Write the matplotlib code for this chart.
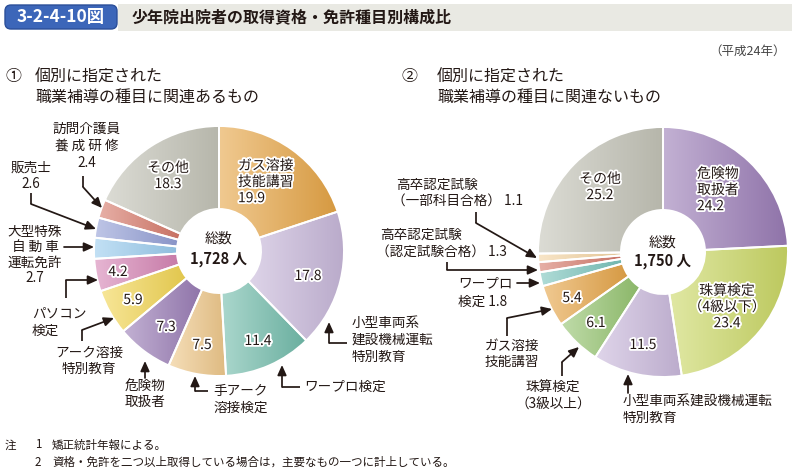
import matplotlib
matplotlib.use("Agg")
import numpy as np
import matplotlib.pyplot as plt
import matplotlib.patheffects as pe
from matplotlib.colors import to_rgb
from matplotlib.patches import FancyBboxPatch, Rectangle

plt.rcParams['font.family'] = ['Noto Sans CJK JP', 'DejaVu Sans']

# ======================================================
# DATA
# ======================================================

left_labels = [
    "ガス溶接技能講習", "小型車両系建設機械運転特別教育", "ワープロ検定",
    "手アーク溶接検定", "危険物取扱者", "アーク溶接特別教育", "パソコン検定",
    "大型特殊自動車運転免許", "販売士", "訪問介護員養成研修", "その他",
]
left_values = [19.9, 17.8, 11.4, 7.5, 7.3, 5.9, 4.2, 2.7, 2.6, 2.4, 18.3]
left_colors = [
    "#e6a546", "#c8b8da", "#72bcab", "#efc88a", "#9a7db6", "#f2d552",
    "#d685b5", "#9accee", "#939fd6", "#d6796a", "#c4c4b8",
]
left_total = "1,728 人"

right_labels = [
    "危険物取扱者", "珠算検定（4級以下）", "小型車両系建設機械運転特別教育",
    "珠算検定（3級以上）", "ガス溶接技能講習", "ワープロ検定",
    "高卒認定試験（認定試験合格）", "高卒認定試験（一部科目合格）", "その他",
]
right_values = [24.2, 23.4, 11.5, 6.1, 5.4, 1.8, 1.3, 1.1, 25.2]
right_colors = [
    "#9a7cb6", "#cbd866", "#cab9dc", "#95c470", "#e6a548", "#7ac4bc",
    "#d67b6c", "#f4d4a2", "#c4c4b8",
]
right_total = "1,750 人"

TXT = "#231815"
H = 468

# ======================================================
# FIGURE (pixel coordinates, y downward)
# ======================================================

fig = plt.figure(figsize=(7.92, 4.68), dpi=100)
ax = fig.add_axes([0, 0, 1, 1])

halo = [pe.withStroke(linewidth=2.6, foreground="white")]


def shade(c):
    # horizontal gradient: lighter on the left, a bit darker on the right
    c = np.array(to_rgb(c))
    light = c + (1 - c) * 0.4
    dark = c * 0.93
    f = np.linspace(0, 1, 64)[:, None]
    return (light * (1 - f) + dark * f)[None, :, :]


def donut(values, colors, cx, cy):
    wedges, _ = ax.pie(
        values,
        colors=colors,
        center=(cx, cy),
        radius=125,
        startangle=-90,
        counterclock=True,
        wedgeprops=dict(width=83, edgecolor="white", linewidth=1.4),
    )
    for w, c in zip(wedges, colors):
        bb = w.get_path().get_extents(w.get_patch_transform())
        im = ax.imshow(shade(c), extent=[bb.x0, bb.x1, bb.y1, bb.y0],
                       aspect="auto", interpolation="bilinear", zorder=1)
        im.set_clip_path(w)
        w.set_facecolor("none")
        w.set_zorder(2)


donut(left_values, left_colors, 219, 251)
donut(right_values, right_colors, 663, 252)

ax.set_xlim(0, 792)
ax.set_ylim(H, 0)
ax.set_aspect("equal")
ax.axis("off")


def t(x, y, s, size=9.8, ha="center", ls=1.25, **kw):
    ax.text(x, y, s, fontsize=size, ha=ha, va="center", color=TXT,
            linespacing=ls, zorder=5, **kw)


def inner(x, y, s, ha="center"):
    ax.text(x, y, s, fontsize=10, ha=ha, va="center", color=TXT,
            linespacing=1.2, path_effects=halo, zorder=5)


def connector(pts):
    xs = [p[0] for p in pts[:-1]]
    ys = [p[1] for p in pts[:-1]]
    ax.plot(xs, ys, color=TXT, lw=1.25, solid_capstyle="butt", zorder=4)
    ax.annotate(
        "", xy=pts[-1], xytext=pts[-2], zorder=4,
        arrowprops=dict(arrowstyle="-|>,head_length=0.6,head_width=0.27",
                        color=TXT, lw=1.25, shrinkA=0, shrinkB=0),
    )


# ======================================================
# HEADER
# ======================================================

ax.add_patch(Rectangle((118, 4), 674, 27, facecolor="#e9e9e3", edgecolor="none"))
ax.add_patch(FancyBboxPatch((5, 5), 112, 24, boxstyle="round,pad=0,rounding_size=6",
                            facecolor="#3c66b9", edgecolor="#2b4f99", lw=1))
ax.text(61, 17.5, "3-2-4-10図", fontsize=12.5, color="white", fontweight="bold",
        ha="center", va="center")
ax.text(132, 17.5, "少年院出院者の取得資格・免許種目別構成比", fontsize=11.5,
        color=TXT, fontweight="bold", ha="left", va="center")
ax.text(786, 51, "（平成24年）", fontsize=9, color="#444444", ha="right", va="center")

t(13, 77, "①", size=11.5)
t(35, 77, "個別に指定された", size=11.5, ha="left")
t(35, 97, "職業補導の種目に関連あるもの", size=11.5, ha="left")
t(410, 77, "②", size=11.5)
t(437, 77, "個別に指定された", size=11.5, ha="left")
t(437, 97, "職業補導の種目に関連ないもの", size=11.5, ha="left")

# ======================================================
# LEFT DONUT LABELS
# ======================================================

t(219, 239, "総数", size=10)
t(219, 259, left_total, size=10.5, fontweight="bold")

inner(238, 182, "ガス溶接\n技能講習\n" + f"{left_values[0]}", ha="left")
inner(308, 276, f"{left_values[1]}")
inner(258, 341, f"{left_values[2]}")
inner(202, 345, f"{left_values[3]}")
inner(166, 327, f"{left_values[4]}")
inner(133, 300, f"{left_values[5]}")
inner(118, 272, f"{left_values[6]}")
inner(168, 176, "その他\n" + f"{left_values[10]}")

t(87, 146, "訪問介護員\n養 成 研 修\n" + f"{left_values[9]}")
connector([(83, 176), (83, 187), (102, 208)])

t(31, 176, "販売士\n" + f"{left_values[8]}")
connector([(31, 193), (31, 204), (96, 229)])

t(35, 255, "大型特殊\n自 動 車\n運転免許\n" + f"{left_values[7]}", ls=1.15)
connector([(64, 247), (94, 247)])

t(32, 322, "パソコン\n検定", ha="left")
connector([(66, 298), (66, 280), (98, 280)])

t(89, 361, "アーク溶接\n特別教育")
connector([(82, 341), (82, 330), (114, 318)])

t(145, 394, "危険物\n取扱者")
connector([(145, 378), (145, 361)])

t(213, 399, "手アーク\n溶接検定", ha="left")
connector([(208, 391), (195, 391), (195, 376)])

t(304, 387, "ワープロ検定", ha="left")
connector([(300, 387), (282, 387), (282, 365)])

t(352, 340, "小型車両系\n建設機械運転\n特別教育", ha="left")
connector([(347, 343), (329, 343), (329, 322)])

# ======================================================
# RIGHT DONUT LABELS
# ======================================================

t(663, 243, "総数", size=10)
t(663, 261, right_total, size=10.5, fontweight="bold")

inner(600, 187, "その他\n" + f"{right_values[8]}")
inner(697, 190, "危険物\n取扱者\n" + f"{right_values[0]}", ha="left")
inner(727, 307, "珠算検定\n（4級以下）\n" + f"{right_values[1]}")
inner(643, 345, f"{right_values[2]}")
inner(596, 323, f"{right_values[3]}")
inner(572, 298, f"{right_values[4]}")

t(396, 185, "高卒認定試験", ha="left")
t(392, 201, "（一部科目合格） " + f"{right_values[7]}", ha="left")
connector([(476, 212), (476, 223), (537, 258)])

t(380, 235, "高卒認定試験", ha="left")
t(376, 252, "（認定試験合格） " + f"{right_values[6]}", ha="left")
connector([(447, 262), (447, 270), (538, 270)])

t(458, 283, "ワープロ", ha="left")
t(458, 302, "検定 " + f"{right_values[5]}", ha="left")
connector([(517, 283), (540, 283)])

t(512, 354, "ガス溶接\n技能講習")
connector([(507, 336), (507, 318), (552, 309)])

t(553, 396, "珠算検定\n（3級以上）")
connector([(562, 376), (562, 362), (579, 347)])

t(623, 410, "小型車両系建設機械運転\n特別教育", ha="left")
connector([(628, 393), (628, 374)])

# ======================================================
# NOTES
# ======================================================

t(5, 445, "注", size=8.3, ha="left")
t(35, 445, "1", size=8.3, ha="left")
t(52, 445, "矯正統計年報による。", size=8.3, ha="left")
t(35, 462, "2", size=8.3, ha="left")
t(52, 462, "資格・免許を二つ以上取得している場合は，主要なもの一つに計上している。",
  size=8.3, ha="left")

fig.savefig("out.png", dpi=100)
